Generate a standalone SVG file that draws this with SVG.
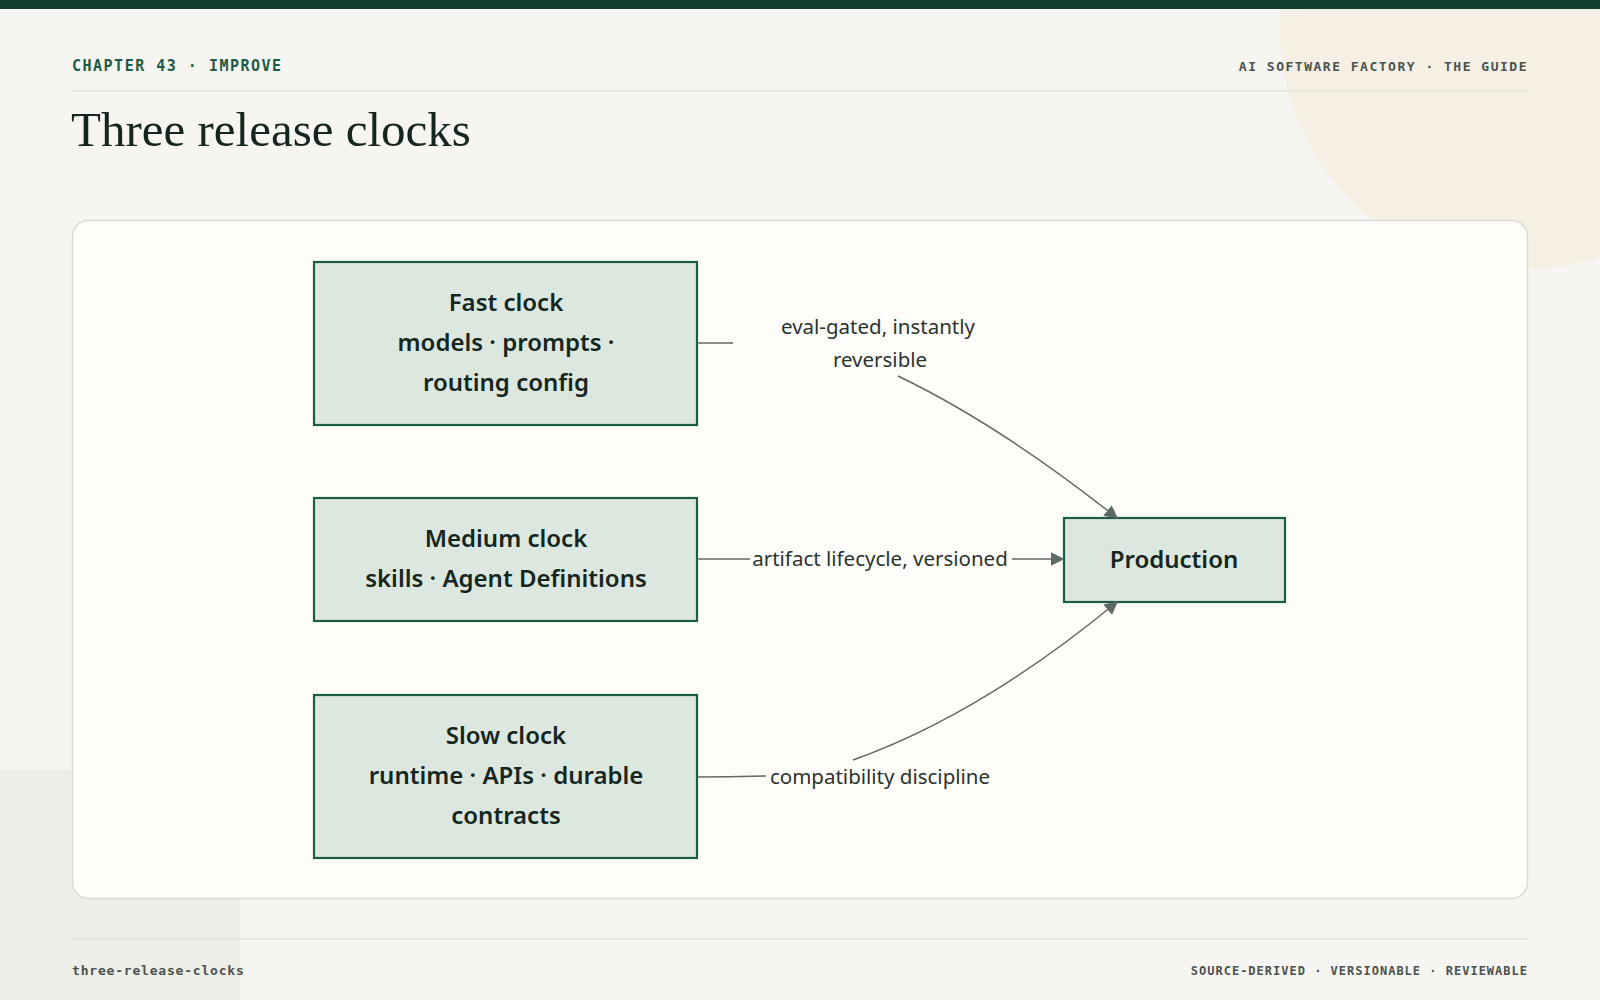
<svg xmlns="http://www.w3.org/2000/svg" width="1600" height="1000" viewBox="0 0 1600 1000">
<defs>
<style>
.mono{font-family:"DejaVu Sans Mono","Liberation Mono",monospace;font-weight:bold;letter-spacing:1.5px}
.node rect{fill:#dce8df;stroke:#1d5b45;stroke-width:2.2}
.node text{font-family:"Noto Sans","Lato",sans-serif;font-weight:600;font-size:24px;fill:#15261e;text-anchor:middle}
.lbl{font-family:"Noto Sans","Lato",sans-serif;font-size:20.5px;fill:#2a332e;text-anchor:middle}
.edge{fill:none;stroke:#606a65;stroke-width:1.5}
</style>
<marker id="ah" viewBox="0 0 10 10" refX="9" refY="5" markerWidth="9" markerHeight="9" orient="auto"><path d="M0,0 L10,5 L0,10 z" fill="#606a65"/></marker>
<clipPath id="c"><rect width="1600" height="1000"/></clipPath>
</defs>
<rect width="1600" height="1000" fill="#f6f5f1"/>
<g clip-path="url(#c)">
<circle cx="1520" cy="30" r="240" fill="#f6efe4"/>
<path d="M0,770 Q200,765 240,800 L240,1000 L0,1000 z" fill="#eeeee9"/>
</g>
<rect width="1600" height="9" fill="#123f31"/>
<text x="72" y="71" class="mono" font-size="15" fill="#1d5b45">CHAPTER 43 · IMPROVE</text>
<text x="1528" y="71" class="mono" font-size="13" fill="#4a524e" text-anchor="end">AI SOFTWARE FACTORY · THE GUIDE</text>
<line x1="72" y1="91" x2="1528" y2="91" stroke="#dcdcd6"/>
<text x="71" y="146" font-family="Liberation Serif,serif" font-size="49" fill="#15261e">Three release clocks</text>
<rect x="72.5" y="220.5" width="1455" height="678" rx="16" fill="#fefdf9" stroke="#d8dbd6" stroke-width="1.5"/>
<g id="fast" class="node"><rect x="314" y="262" width="383" height="163"/><text x="506" y="311">Fast clock</text><text x="506" y="351">models · prompts ·</text><text x="506" y="391">routing config</text></g>
<g id="medium" class="node"><rect x="314" y="498" width="383" height="123"/><text x="506" y="547">Medium clock</text><text x="506" y="587">skills · Agent Definitions</text></g>
<g id="slow" class="node"><rect x="314" y="695" width="383" height="163"/><text x="506" y="744">Slow clock</text><text x="506" y="784">runtime · APIs · durable</text><text x="506" y="824">contracts</text></g>
<g id="production" class="node"><rect x="1064" y="518" width="221" height="84"/><text x="1174" y="568">Production</text></g>
<g id="connectors">
<path class="edge" d="M697,343 L733,343"/>
<path class="edge" d="M898,376 Q1000,425 1117,518" marker-end="url(#ah)"/>
<path class="edge" d="M697,559 L750,559"/>
<path class="edge" d="M1012,559 L1063,559" marker-end="url(#ah)"/>
<path class="edge" d="M697,777 Q730,777 766,776"/>
<path class="edge" d="M853,760 Q980,715 1117,602" marker-end="url(#ah)"/>
<text class="lbl" x="878" y="334">eval-gated, instantly</text>
<text class="lbl" x="880" y="367">reversible</text>
<text class="lbl" x="880" y="566">artifact lifecycle, versioned</text>
<text class="lbl" x="880" y="784">compatibility discipline</text>
</g>
<line x1="72" y1="939" x2="1528" y2="939" stroke="#dcdcd6"/>
<text x="72" y="975" class="mono" font-size="13" fill="#4a524e" style="letter-spacing:0.8px">three-release-clocks</text>
<text x="1528" y="975" class="mono" font-size="12" fill="#4a524e" text-anchor="end" style="letter-spacing:1px">SOURCE-DERIVED · VERSIONABLE · REVIEWABLE</text>
</svg>
